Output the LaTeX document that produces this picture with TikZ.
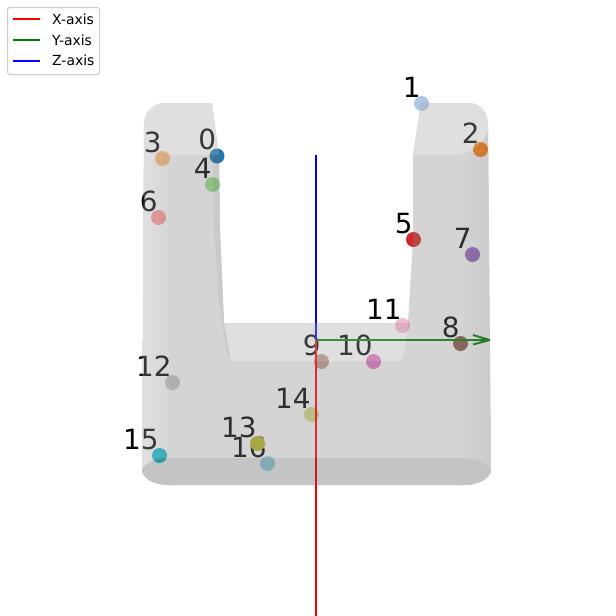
\documentclass[tikz,border=0pt]{standalone}
\usepackage{fontspec}
\setmainfont{DejaVu Sans}
\definecolor{c0}{HTML}{1F77B4}\definecolor{c1}{HTML}{AEC7E8}\definecolor{c2}{HTML}{FF7F0E}
\definecolor{c3}{HTML}{FFBB78}\definecolor{c4}{HTML}{98DF8A}\definecolor{c5}{HTML}{D62728}
\definecolor{c6}{HTML}{FF9896}\definecolor{c7}{HTML}{9467BD}\definecolor{c8}{HTML}{8C564B}
\definecolor{c9}{HTML}{C49C94}\definecolor{c10}{HTML}{E377C2}\definecolor{c11}{HTML}{F7B6D2}
\definecolor{c12}{HTML}{C7C7C7}\definecolor{c13}{HTML}{BCBD22}\definecolor{c14}{HTML}{DBDB8D}
\definecolor{c15}{HTML}{17BECF}\definecolor{c16}{HTML}{9EDAE5}
\definecolor{axgreen}{HTML}{008000}
\definecolor{legedge}{HTML}{CCCCCC}
\definecolor{mbase}{RGB}{132,132,132}
\definecolor{mtop}{RGB}{166,166,166}
\definecolor{mlow}{RGB}{86,86,86}
\definecolor{medge}{RGB}{170,170,170}
\definecolor{mdark}{RGB}{106,106,106}
\tikzset{
  pt/.style={circle,inner sep=0pt,minimum size=15pt,fill=#1},
  num/.style={anchor=base east,inner sep=0pt,font=\fontsize{27.8}{28}\selectfont,text=black},
  axis/.style={line width=2pt,line join=round},
  legtext/.style={anchor=base west,inner sep=0pt,font=\fontsize{13.9}{14}\selectfont,text=black},
}
\def\silhouette{(144,125) .. controls (144,112) and (153,103) .. (166,103) -- (212,103)
  -- (219,155) -- (220,230) -- (224,323) -- (408,323) -- (413,240) -- (413,155) -- (421,103)
  -- (468,103) .. controls (480,103) and (488,112) .. (488,125)
  -- (491,470) .. controls (491,478) and (478,485) .. (465,485) -- (168,485)
  .. controls (154,485) and (142,478) .. (142,470) -- cycle}
\begin{document}
\begin{tikzpicture}[x=1pt,y=-1pt]
\useasboundingbox (0,0) rectangle (616,616);
\fill[white] (0,0) rectangle (616,616);
% axes
\coordinate (origin) at (316,340);
\coordinate (xend) at (316,616);
\coordinate (yend) at (489.5,340);
\coordinate (zend) at (316,155);
\coordinate (ybarbA) at (473,335);
\coordinate (ybarbB) at (473,344.5);
% labels
\foreach \n/\x/\y in {0/217/156,1/421.5/103.5,2/480.5/149.5,3/162.5/158.5,4/212.5/184.5,5/413.5/239.5,
  6/158.5/217.5,7/472.5/254.5,8/460.5/343.5,9/321.5/361.5,10/373.5/361.5,11/402.5/325.5,
  12/172.5/382.5,13/257.5/443.5,14/311.5/414.5,15/159.5/455.5,16/267.5/463.5}
  \node[num] (l\n) at (\x-.7,\y-6.2) {\n};
% points
\foreach \n/\x/\y in {0/217/156,1/421.5/103.5,2/480.5/149.5,3/162.5/158.5,4/212.5/184.5,5/413.5/239.5,
  6/158.5/217.5,7/472.5/254.5,8/460.5/343.5,9/321.5/361.5,10/373.5/361.5,11/402.5/325.5,
  12/172.5/382.5,16/267.5/463.5,13/257.5/443.5,14/311.5/414.5,15/159.5/455.5}
  \node[pt=c\n] (p\n) at (\x,\y) {};
\draw[axis,red] (origin) -- (xend);
\draw[axis,axgreen] (origin) -- (yend);
\draw[axis,axgreen] (ybarbA) -- (yend) -- (ybarbB);
\draw[axis,blue] (origin) -- (zend);
% translucent body: opaque faces inside one transparency group
\begin{scope}[transparency group,opacity=.35]
  \clip \silhouette;
  \fill[mbase] (130,90) rectangle (500,495);
  % side gradients
  \shade[left color=medge,right color=mbase] (141,100) rectangle (172,490);
  \shade[left color=mbase,right color=mdark] (460,100) rectangle (492,490);
  % top faces
  \fill[mtop] (140,100) -- (140,125) .. controls (146,145) and (160,155) .. (178,155)
     -- (219,155) -- (215,100) -- cycle;
  \fill[mtop] (413,155) -- (452,155) .. controls (470,155) and (484,145) .. (490,126)
     -- (490,100) -- (415,100) -- cycle;
  % floor of the notch
  \fill[mtop] (224,323) -- (408,323) -- (405,345) .. controls (404,355) and (402,361) .. (398,361)
     -- (231,361) .. controls (228,352) and (226,340) .. (224,323) -- cycle;
  % inner wall of left arm
  \fill[mdark] (213,155) -- (219,155) -- (220,230) -- (224,323) -- (231,361) -- (226,350)
     -- (219,300) -- (214,230) -- cycle;
  % front lower band
  \fill[mlow] (140,472) .. controls (144,464) and (154,458) .. (168,458) -- (465,458)
     .. controls (478,458) and (488,464) .. (492,472) -- (492,490) -- (140,490) -- cycle;
\end{scope}
% legend
\node[draw=legedge,fill=white,rounded corners=2.5pt,line width=1pt,minimum width=92pt,minimum height=67pt,inner sep=0pt,anchor=north west] (legend) at (7,7) {};
\foreach \n/\c/\t/\y in {x/red/X-axis/19,y/axgreen/Y-axis/40,z/blue/Z-axis/60.5}{
  \coordinate (\n a) at (13,\y);
  \coordinate (\n b) at (40,\y);
  \draw[axis,\c] (\n a) -- (\n b);
  \node[legtext] (\n t) at (52,\y+5) {\t};
}
\end{tikzpicture}
\end{document}
